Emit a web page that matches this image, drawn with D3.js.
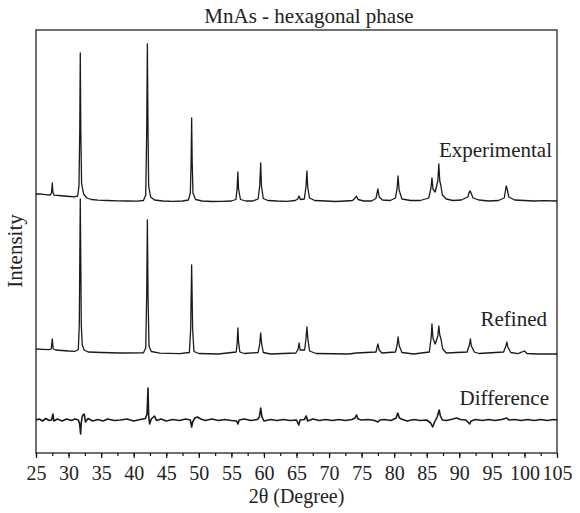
<!DOCTYPE html>
<html>
<head>
<meta charset="utf-8">
<script src="https://cdn.jsdelivr.net/npm/d3@7"></script>
</head>
<body style="margin:0">
<svg id="chart" width="580" height="513" font-family="Liberation Serif"></svg>
<script>
// 2theta (deg), intensity (counts, own baseline)
const experimental = [
  [25.0,70],[25.6,72],[26.2,66],[26.8,62],[27.2,60],[27.4,85],[27.5,180],[27.6,85],[27.8,58],[28.5,55],
  [29.3,50],[30.2,45],[30.9,42],[31.4,50],[31.6,150],[31.72,700],[31.8,1480],[31.88,700],[32.0,180],[32.3,70],
  [32.8,30],[33.5,15],[34.5,8],[36,5],[37.5,2],[39,0],[40.5,-2],[41.5,5],[41.85,60],[42.0,700],
  [42.1,1570],[42.2,700],[42.3,150],[42.6,40],[43.2,10],[44.5,0],[46,-3],[47.5,0],[48.4,10],[48.7,80],
  [48.82,400],[48.9,830],[48.98,400],[49.1,80],[49.5,15],[50.5,0],[52,-5],[53.5,-3],[55,0],[55.7,15],
  [55.88,120],[56.0,290],[56.1,120],[56.4,15],[57.2,0],[58.3,0],[59.1,20],[59.35,150],[59.5,380],[59.62,150],
  [59.9,25],[60.6,5],[62,0],[63.5,-3],[64.8,5],[65.2,20],[65.4,50],[65.6,15],[66.2,20],[66.45,140],
  [66.6,300],[66.72,140],[67.0,30],[67.8,5],[69.5,0],[71,-5],[72.5,0],[73.6,5],[74.0,30],[74.2,50],
  [74.45,15],[75.3,0],[76.5,0],[77.2,25],[77.5,120],[77.7,40],[78.2,10],[79.4,5],[80.2,30],[80.45,130],
  [80.6,250],[80.75,110],[81.2,20],[82.5,5],[84,5],[85.3,30],[85.65,130],[85.8,230],[85.95,120],[86.3,90],
  [86.7,200],[86.85,370],[87.0,200],[87.15,160],[87.4,60],[88,20],[89,5],[90.3,10],[91.3,40],[91.6,100],
  [91.75,90],[92.1,30],[93,10],[94.5,0],[96,5],[96.9,30],[97.2,150],[97.35,120],[97.6,40],[98.5,10],
  [100,5],[101.5,0],[103,3],[105,0]
];

const refined = [
  [25.0,50],[26,47],[27,43],[27.35,50],[27.5,150],[27.65,50],[28,40],[29,35],[30,30],[31,27],
  [31.5,45],[31.65,300],[31.72,900],[31.8,1550],[31.88,900],[31.95,300],[32.1,90],[32.4,40],[33,20],[35,15],
  [38,10],[41.5,12],[41.85,60],[42.0,600],[42.1,1340],[42.2,600],[42.35,80],[42.7,25],[44,8],[47,3],
  [48.55,15],[48.75,250],[48.9,890],[49.05,250],[49.25,25],[50,5],[53,0],[55.75,20],[55.9,120],[56.0,260],
  [56.1,120],[56.3,20],[57,5],[59.1,15],[59.35,100],[59.5,210],[59.65,100],[59.9,15],[61,0],[64.9,10],
  [65.25,50],[65.4,110],[65.55,40],[66.25,40],[66.45,150],[66.6,270],[66.75,150],[67.0,30],[68,5],[73,0],
  [74.2,10],[77.2,20],[77.5,100],[77.7,40],[78.1,10],[80.2,20],[80.45,90],[80.6,170],[80.78,80],[81.2,15],
  [83,0],[85.4,20],[85.7,180],[85.8,300],[85.95,160],[86.3,100],[86.7,180],[86.85,280],[87.0,190],[87.15,160],
  [87.45,50],[88,10],[91.2,20],[91.55,90],[91.7,150],[91.85,80],[92.3,20],[93,5],[96.8,20],[97.15,80],
  [97.3,120],[97.45,70],[97.9,15],[99,3],[100,30],[100.4,5],[102,0],[105,0]
];

const difference = [
  [25,0],[25.5,10],[26,-10],[26.5,15],[27,-5],[27.4,0],[27.6,60],[27.75,-10],[28.3,10],[29,-10],
  [29.7,10],[30.4,-5],[31.0,10],[31.5,0],[31.7,-40],[31.85,-140],[31.95,-30],[32.1,40],[32.4,60],[32.6,-20],
  [33,15],[33.7,-10],[34.5,5],[35.3,-10],[36,10],[37,-5],[38,0],[39,10],[40,-10],[41,5],
  [41.8,15],[42.05,60],[42.2,320],[42.3,40],[42.45,-40],[42.7,10],[43.2,40],[43.5,-5],[44.2,10],[45,-10],
  [46,5],[47,-5],[48,10],[48.7,0],[48.9,-70],[49.05,-20],[49.4,20],[49.8,30],[50.3,10],[51,-5],
  [52,10],[53,-5],[54,5],[55,-5],[55.8,-10],[56.0,-40],[56.2,0],[57,10],[58,-5],[59,5],
  [59.3,30],[59.5,120],[59.7,30],[60,-10],[61,5],[62,-5],[63,5],[64,-5],[65,0],[65.35,-50],
  [65.55,0],[66.2,5],[66.5,40],[66.7,-10],[67.5,10],[68.5,-5],[69.5,5],[70.5,-5],[71.5,5],[72.5,-5],
  [73.5,5],[74.0,20],[74.2,50],[74.45,10],[75,0],[76,5],[77,-5],[77.5,-20],[77.8,0],[78.5,5],
  [79.5,-5],[80.3,20],[80.55,70],[80.8,20],[81.3,5],[82,-10],[83,5],[84,-5],[85,0],[85.6,-30],
  [85.9,-70],[86.2,-20],[86.6,30],[86.9,100],[87.1,40],[87.4,0],[88,-5],[89,10],[89.6,20],[90.2,5],
  [91,0],[91.6,-40],[91.8,-10],[92.5,5],[93.5,-5],[94.5,5],[95.5,-5],[96.5,5],[97.3,20],[97.6,0],
  [98.5,5],[99.5,-5],[100.5,5],[101.5,-5],[102.5,5],[103.5,-5],[104.5,5],[105,0]
];

const seriesNames = ["Experimental", "Refined", "Difference"];
const seriesOffsets = [2520, 990, 330];   // vertical stacking of the traces
const xTicks = d3.range(25, 106, 5);
const xMinorTicks = d3.range(25, 105.1, 2.5);

const FONT = "Liberation Serif";

const svg = d3.select("#chart");
const margin = { top: 30, right: 23, bottom: 60, left: 36 };
const width = 580 - margin.left - margin.right;
const height = 513 - margin.top - margin.bottom;

const x = d3.scaleLinear().domain([25, 105]).range([margin.left, margin.left + width]);
const y = d3.scaleLinear().domain([0, 4230]).range([margin.top + height, margin.top]);

// traces
const series = [experimental, refined, difference];
const line = d3.line().x(d => x(d[0]));

series.forEach((data, i) => {
  svg.append("path")
    .datum(data)
    .attr("fill", "none")
    .attr("stroke", "#1a1a1a")
    .attr("stroke-linejoin", "round")
    .attr("stroke-width", i === 2 ? 1.6 : 1.3)
    .attr("d", line.y(d => y(d[1] + seriesOffsets[i])));
});

// frame
svg.append("rect")
  .attr("x", margin.left)
  .attr("y", margin.top)
  .attr("width", width)
  .attr("height", height)
  .attr("fill", "none")
  .attr("stroke", "#111")
  .attr("stroke-width", 1.2);

// minor ticks
svg.append("g")
  .attr("transform", `translate(0,${margin.top + height})`)
  .call(d3.axisBottom(x).tickValues(xMinorTicks).tickSize(3).tickFormat(""))
  .call(g => g.select(".domain").remove())
  .selectAll("line").attr("stroke", "#111").attr("stroke-width", 1.2);

// major ticks + labels
const xAxis = svg.append("g")
  .attr("transform", `translate(0,${margin.top + height})`)
  .call(d3.axisBottom(x).tickValues(xTicks).tickSize(5).tickPadding(8).tickFormat(d3.format("d")));
xAxis.attr("font-family", FONT).attr("font-size", 20);
xAxis.select(".domain").remove();
xAxis.selectAll("line").attr("stroke", "#111").attr("stroke-width", 1.2);
xAxis.selectAll("text")
  .attr("fill", "#222")
  .attr("font-family", FONT)
  .attr("font-size", 20);

// series labels
const labelPos = [[552, 157], [547, 326], [549, 405]];
seriesNames.forEach((name, i) => {
  svg.append("text")
    .attr("x", labelPos[i][0])
    .attr("y", labelPos[i][1])
    .attr("text-anchor", "end")
    .attr("fill", "#222")
    .attr("font-family", FONT)
    .attr("font-size", 21)
    .text(name);
});

// title and axis titles
svg.append("text")
  .attr("x", 309).attr("y", 23)
  .attr("text-anchor", "middle")
  .attr("fill", "#222")
  .attr("font-family", FONT)
  .attr("font-size", 21)
  .text("MnAs - hexagonal phase");

svg.append("text")
  .attr("x", margin.left + width / 2).attr("y", 503)
  .attr("text-anchor", "middle")
  .attr("fill", "#222")
  .attr("font-family", FONT)
  .attr("font-size", 20)
  .text("2θ (Degree)");

svg.append("text")
  .attr("transform", `translate(22,251) rotate(-90)`)
  .attr("text-anchor", "middle")
  .attr("fill", "#222")
  .attr("font-family", FONT)
  .attr("font-size", 21)
  .text("Intensity");
</script>
</body>
</html>
